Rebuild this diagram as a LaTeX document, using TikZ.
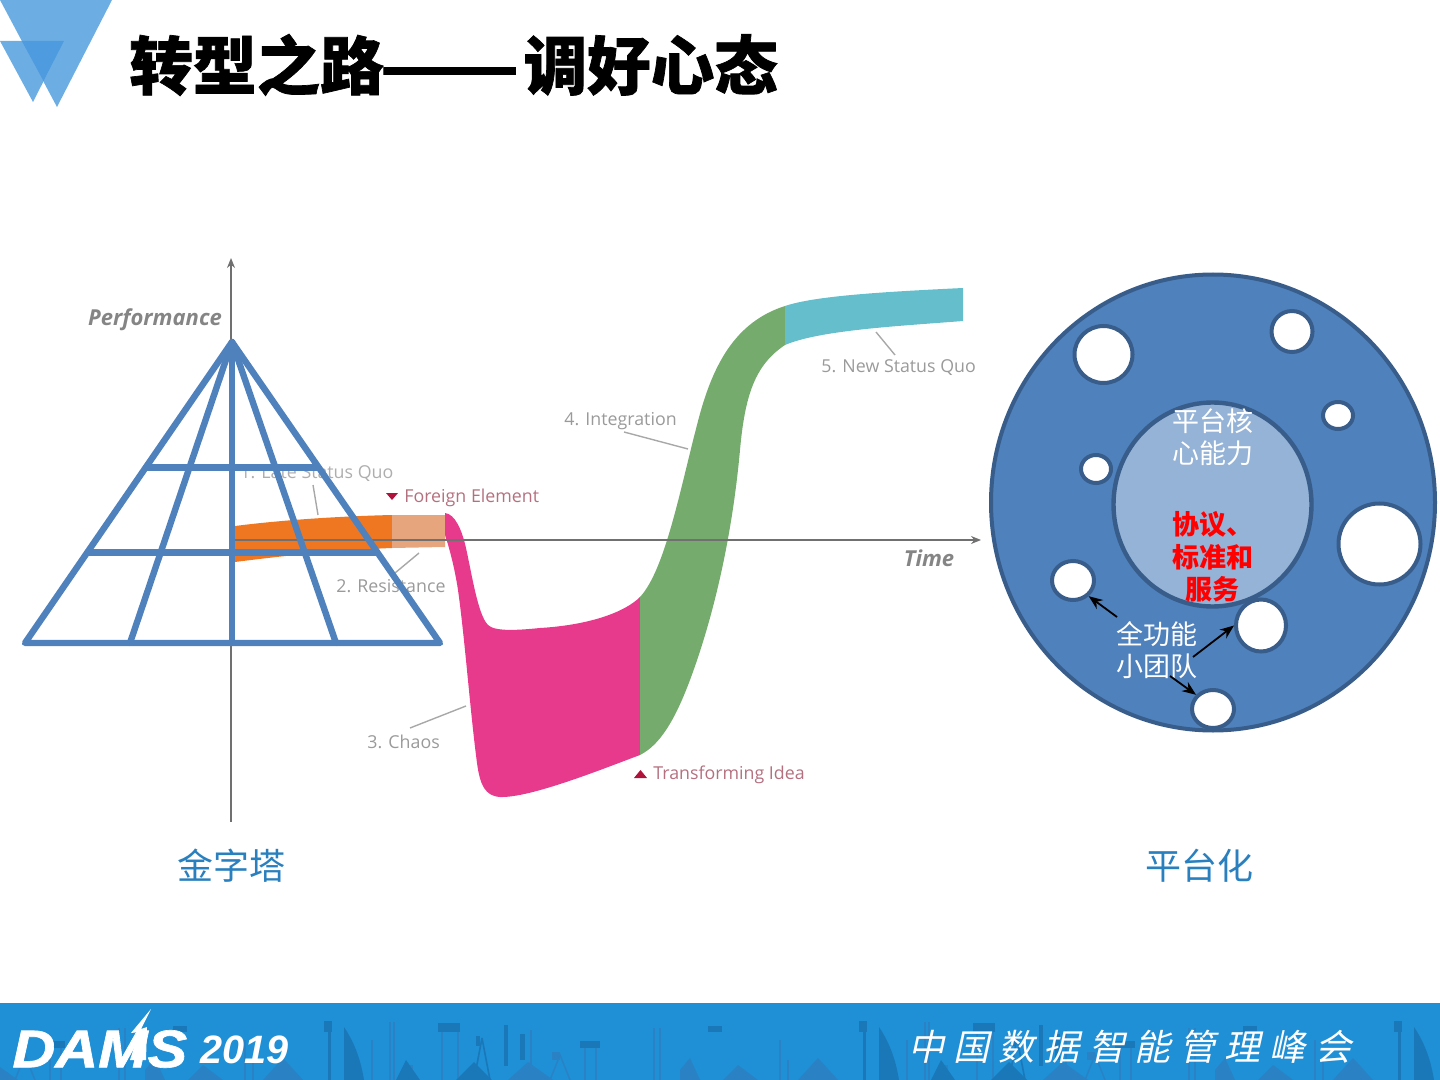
\documentclass[tikz,border=0pt]{standalone}
\usepackage{fontspec}
\usepackage{graphicx}
\usetikzlibrary{shapes.geometric,arrows.meta}
\newfontfamily\cjk{Noto Sans CJK SC}
\newfontfamily\cjktitle{Noto Sans CJK SC}[BoldFeatures={FakeBold=1.1}]
\newfontfamily\cjkslant{Noto Sans CJK SC}[FakeSlant=0.22]
\newfontfamily\lblfont{Open Sans}
\newfontfamily\logofont{Liberation Sans}[BoldItalicFeatures={FakeBold=1.2}]
\newfontfamily\yearfont{Liberation Sans}
\definecolor{discfill}{HTML}{4F81BD}
\definecolor{discline}{HTML}{385D8A}
\definecolor{corefill}{HTML}{95B3D7}
\definecolor{pyr}{HTML}{4F81BD}
\definecolor{lbl}{HTML}{9A9A9A}
\definecolor{lead}{HTML}{A8A8A8}
\definecolor{axisc}{HTML}{707070}
\definecolor{markc}{HTML}{B0123B}
\definecolor{marklbl}{HTML}{B5707F}
\definecolor{bar}{HTML}{1F8FD6}
\definecolor{sky}{HTML}{1A78B8}
\definecolor{skyl}{HTML}{2A82C4}
\definecolor{capblue}{HTML}{2A80BE}
\definecolor{logoa}{HTML}{6CAEE4}
\definecolor{logob}{HTML}{4E9BDF}
\definecolor{bandorange}{HTML}{EF7722}
\definecolor{bandpeach}{HTML}{E7A57D}
\definecolor{bandpink}{HTML}{E83A8C}
\definecolor{bandgreen}{HTML}{75AC6E}
\definecolor{bandteal}{HTML}{64BECB}
\tikzset{
  hole/.style={ellipse,draw=discline,line width=2pt,fill=white,inner sep=0pt},
  stagelbl/.style={font=\lblfont\fontsize{8.9pt}{11pt}\selectfont,text=lbl,inner sep=0pt},
  marklabel/.style={font=\lblfont\fontsize{8.9pt}{11pt}\selectfont,text=marklbl,inner sep=0pt},
  axislbl/.style={font=\lblfont\bfseries\itshape\fontsize{11pt}{13pt}\selectfont,text=axisc!85,inner sep=0pt},
  leader/.style={draw=lead,line width=0.7pt},
  axisline/.style={draw=axisc,line width=0.9pt,-{Stealth[length=5pt,width=4pt]}},
  pyrline/.style={draw=pyr,line width=3.2pt,line cap=round,line join=round},
  whitelbl/.style={align=center,text=white,inner sep=0pt,font=\cjk\fontsize{13.5pt}{16pt}\selectfont},
  redlbl/.style={align=center,text=red,inner sep=0pt,font=\cjk\bfseries\fontsize{13.5pt}{16.3pt}\selectfont},
  caplbl/.style={text=capblue,inner sep=0pt,font=\cjk\fontsize{18pt}{20pt}\selectfont},
  teamarrow/.style={draw=black,line width=0.9pt,-{Stealth[length=7pt,width=5.5pt]}},
}
\begin{document}
\begin{tikzpicture}[x=0.5pt,y=-0.5pt]
\useasboundingbox (0,0) rectangle (1440,1080);
% logo
\fill[logoa] (0,0) -- (112,0) -- (57,107) -- cycle;
\fill[logoa] (0,41) -- (64,41) -- (33,102) -- cycle;
\fill[logob] (21.8,41) -- (64,41) -- (43.5,81) -- cycle;
\node[inner sep=0pt,anchor=west,font=\cjktitle\bfseries\fontsize{31.8pt}{36pt}\selectfont] (title) at (129,65) {转型之路\kern-2pt\scalebox{1.28}[1]{——}\kern2pt 调好心态};
% curve bands
\fill[bandorange] (235,526) .. controls (290,519) and (350,516) .. (392,515) -- (392,548) .. controls (340,550) and (290,555) .. (235,562) -- cycle;
\fill[bandpeach] (392,515) -- (445,515) -- (445,547) -- (392,548) -- cycle;
\fill[bandpink] (445,513) .. controls (455,514) and (462,530) .. (466,548) .. controls (472,575) and (478,615) .. (488,625) .. controls (495,632) and (520,630) .. (540,628) .. controls (590,625) and (625,612) .. (640,597)
  -- (640,755) .. controls (600,770) and (530,798) .. (500,797) .. controls (485,796) and (480,785) .. (477,763) .. controls (470,710) and (465,640) .. (458,590) .. controls (455,570) and (450,550) .. (445,535) -- cycle;
\fill[bandgreen] (640,597) .. controls (665,570) and (680,490) .. (697,425) .. controls (712,365) and (735,322) .. (785,306)
  -- (785,345) .. controls (755,365) and (745,395) .. (740,450) .. controls (730,560) and (705,640) .. (690,680) .. controls (675,720) and (660,745) .. (640,755) -- cycle;
\fill[bandteal] (785,306) .. controls (815,296) and (880,292) .. (963,288) -- (963,321) .. controls (900,326) and (820,330) .. (785,345) -- cycle;
% axes
\coordinate (origin) at (231,540);
\coordinate (ytop) at (231,258);
\coordinate (ybot) at (231,822);
\coordinate (xend) at (981,540);
\draw[axisline] (ybot) -- (ytop);
\draw[axisline] (origin) -- (xend);
% labels of the curve
\node[axislbl] (perf) at (155,320) {Performance};
\node[axislbl] (time) at (929,558) {Time};
\node[stagelbl,text=lbl!80,anchor=west] (s1) at (240,474) {1. Late Status Quo};
\node[stagelbl,anchor=west] (s2) at (336,586) {2. Resistance};
\node[stagelbl,anchor=west] (s3) at (367,742) {3. Chaos};
\node[stagelbl,anchor=west] (s4) at (564,421) {4. Integration};
\node[stagelbl,anchor=west] (s5) at (821,368) {5. New Status Quo};
\node[marklabel,anchor=west] (fe) at (404,498) {Foreign Element};
\node[marklabel,anchor=west] (ti) at (653,775) {Transforming Idea};
\fill[markc] (386,493) -- (398,493) -- (392,500) -- cycle;
\fill[markc] (634,778) -- (647,778) -- (640.5,770) -- cycle;
\coordinate (l1a) at (313,485); \coordinate (l1b) at (318,515);
\coordinate (l2a) at (419,553); \coordinate (l2b) at (395,573);
\coordinate (l3a) at (410,728); \coordinate (l3b) at (466,706);
\coordinate (l4a) at (624,432); \coordinate (l4b) at (688,449);
\coordinate (l5a) at (876,332); \coordinate (l5b) at (895,355);
\draw[leader] (l1a) -- (l1b);
\draw[leader] (l2a) -- (l2b);
\draw[leader] (l3a) -- (l3b);
\draw[leader] (l4a) -- (l4b);
\draw[leader] (l5a) -- (l5b);
% pyramid
\draw[pyrline] (232,342) -- (25,643) -- (440,643) -- cycle;
\draw[pyrline] (232,342) -- (130,643);
\draw[pyrline] (232,342) -- (232,643);
\draw[pyrline] (232,342) -- (336,643);
\draw[pyrline] (146,467.5) -- (318,467.5);
\draw[pyrline] (88,552.5) -- (377,552.5);
\node[caplbl] (capa) at (231,866) {金字塔};
\node[caplbl] (capb) at (1199,866) {平台化};
% platform disc
\node[ellipse,draw=discline,line width=2pt,fill=discfill,minimum width=222pt,minimum height=228pt,inner sep=0pt] (disc) at (1213,502.5) {};
\node[ellipse,draw=discline,line width=2.2pt,fill=corefill,minimum width=99pt,minimum height=102pt,inner sep=0pt] (core) at (1212.5,504.5) {};
\node[hole,minimum width=29pt,minimum height=28.5pt] (h1) at (1103.5,354.5) {};
\node[hole,minimum width=20.5pt,minimum height=20.5pt] (h2) at (1292,331.5) {};
\node[hole,minimum width=15pt,minimum height=13.5pt] (h3) at (1338,415.5) {};
\node[hole,minimum width=15pt,minimum height=14pt] (h4) at (1096,469) {};
\node[hole,minimum width=41pt,minimum height=40.5pt] (h5) at (1379.5,544) {};
\node[hole,minimum width=21pt,minimum height=19.5pt] (h6) at (1073,580.5) {};
\node[hole,minimum width=25pt,minimum height=26pt] (h7) at (1261,625.5) {};
\node[hole,minimum width=21pt,minimum height=19pt] (h8) at (1213,709) {};
\node[whitelbl] (corecap) at (1212.5,437) {平台核\\心能力};
\node[redlbl] (std) at (1212.5,557) {协议、\\标准和\\服务};
\node[whitelbl] (team) at (1156.5,650) {全功能\\小团队};
\coordinate (ta) at (1117,617);
\coordinate (tb) at (1193,657);
\coordinate (tc) at (1170,676);
\draw[teamarrow] (ta) -- (h6.-45);
\draw[teamarrow] (tb) -- (h7.180);
\draw[teamarrow] (tc) -- (h8.140);
% footer
\fill[bar] (0,1003) rectangle (1440,1080);
\begin{scope}
\clip (0,1003) rectangle (1440,1080);
\foreach \o in {-207,328,863,1398}{
\begin{scope}[shift={(\o,0)}]
 \fill[sky] (-4,1021) rectangle (4,1032);
 \fill[sky] (0,1032) rectangle (3,1080);
 \fill[sky] (16,1027) .. controls (28,1045) and (33,1062) .. (36,1080) -- (16,1080) -- cycle;
 \draw[skyl,line width=0.6pt] (44,1040) -- (44,1080) (62,1022) -- (62,1080) (66,1022) -- (66,1080);
 \fill[skyl] (75,1065) rectangle (85,1072);
 \fill[sky] (78,1060) -- (92,1080) -- (68,1080) -- cycle;
 \fill[sky] (110,1023) rectangle (132,1032);
 \draw[skyl,line width=1pt] (114,1032) -- (114,1080) (130,1032) -- (130,1080);
 \fill[sky] (128,1080) -- (146,1062) -- (164,1080) -- cycle;
 \draw[sky,line width=0.8pt] (154,1038) -- (146,1080) (154,1038) -- (162,1080);
 \fill[sky] (148,1036) rectangle (152,1046);
 \fill[sky] (176,1025) rectangle (180,1066);
 \fill[sky] (192,1034) rectangle (197,1060);
 \draw[skyl,line width=1pt] (203,1030) -- (203,1080);
 \fill[skyl] (180,1080) -- (200,1062) -- (225,1080) -- cycle;
 \fill[sky] (252,1041) rectangle (272,1048);
 \draw[skyl,line width=1pt] (257,1048) -- (257,1080) (268,1048) -- (268,1080);
 \fill[skyl] (224,1052) rectangle (232,1060);
 \draw[skyl,line width=0.7pt] (222,1080) -- (232,1055) -- (242,1080);
 \draw[skyl,line width=1pt] (326,1028) -- (326,1080) (332,1028) -- (332,1080);
 \fill[skyl] (352,1070) -- (362,1058) -- (372,1080) -- (352,1080) -- cycle;
 \fill[sky] (380,1026) rectangle (394,1032);
 \fill[skyl] (395,1080) -- (410,1065) -- (430,1080) -- cycle;
 \fill[skyl] (470,1080) -- (490,1058) -- (510,1080) -- cycle;
 \draw[skyl,line width=1pt] (452,1040) -- (452,1080) (460,1060) -- (460,1080);
\end{scope}}
\end{scope}
\node[inner sep=0pt,anchor=west,text=white,xscale=1.12,transform shape,font=\logofont\bfseries\itshape\fontsize{26.5pt}{30pt}\selectfont] (dams) at (12,1049) {DAMS};
\fill[white] (151,1009) -- (131,1033) -- (139,1032) -- (130,1060) -- (146,1060) -- (147,1027) -- (141,1029) -- cycle;
\node[inner sep=0pt,anchor=west,text=white,font=\yearfont\bfseries\itshape\fontsize{19.8pt}{22pt}\selectfont] (yr) at (200,1050) {2019};
\node[inner sep=0pt,anchor=west,text=white,font=\cjkslant\fontsize{18pt}{20pt}\selectfont] (conf) at (908,1047) {中\kern4.6pt 国\kern4.6pt 数\kern4.6pt 据\kern4.6pt 智\kern4.6pt 能\kern4.6pt 管\kern4.6pt 理\kern4.6pt 峰\kern4.6pt 会};
\end{tikzpicture}
\end{document}
